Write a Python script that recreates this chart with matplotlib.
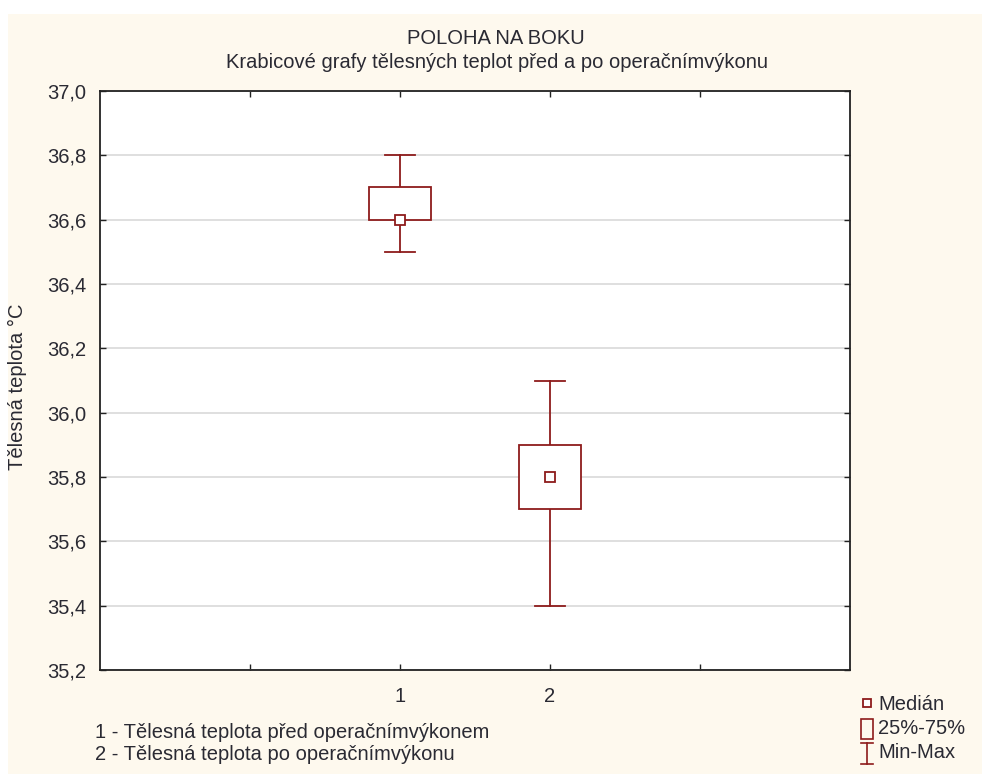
import matplotlib
matplotlib.use("Agg")
import matplotlib.pyplot as plt
from matplotlib.patches import Rectangle

# Data
positions = [1, 2]
whisker_min = [36.5, 35.4]
q25 = [36.6, 35.7]
median = [36.6, 35.8]
q75 = [36.7, 35.9]
whisker_max = [36.8, 36.1]
tick_labels = ["", "1", "2", ""]
notes = [
    "1 - Tělesná teplota před operačnímvýkonem",
    "2 - Tělesná teplota po operačnímvýkonu",
]
legend_labels = ["Medián", "25%-75%", "Min-Max"]

red = "#8e1b1b"
text_col = "#2a2a33"
fs = 14.5
plt.rcParams["font.family"] = ["Liberation Sans", "DejaVu Sans"]

fig = plt.figure(figsize=(9.82, 7.74), dpi=100)
fig.patch.set_facecolor("white")
# кремовая подложка как в Statistica
fig.patches.append(Rectangle((8 / 982, 0), 1, 1 - 14 / 774, transform=fig.transFigure,
                             facecolor="#fef9ee", edgecolor="none", zorder=-10))

ax = fig.add_axes([100 / 982, 1 - 670 / 774, 750 / 982, 579 / 774])
ax.set_facecolor("white")

box_w = 0.41
cap_w = 0.2
for x, lo, a, m, b, hi in zip(positions, whisker_min, q25, median, q75, whisker_max):
    ax.plot([x, x], [b, hi], color=red, lw=1.3, zorder=3)
    ax.plot([x, x], [lo, a], color=red, lw=1.3, zorder=3)
    ax.plot([x - cap_w / 2, x + cap_w / 2], [hi, hi], color=red, lw=1.3, zorder=3)
    ax.plot([x - cap_w / 2, x + cap_w / 2], [lo, lo], color=red, lw=1.3, zorder=3)
    ax.add_patch(Rectangle((x - box_w / 2, a), box_w, b - a, facecolor="white",
                           edgecolor=red, lw=1.3, zorder=3))
    ax.plot([x], [m], marker="s", ms=7, mfc="white", mec=red, mew=1.3, zorder=4)

ax.set_xlim(-1, 4)
ax.set_ylim(35.2, 37.0)
ax.set_xticks([0, 1, 2, 3])
ax.set_xticklabels(tick_labels)
yt = [35.2 + 0.2 * i for i in range(10)]
ax.set_yticks(yt)
ax.set_yticklabels([f"{v:.1f}".replace(".", ",") for v in yt])
ax.yaxis.grid(True, color="#dcdcdc", lw=1.3)
ax.set_axisbelow(True)
ax.tick_params(direction="in", length=4, width=1, top=True, right=True,
               labelsize=fs, colors="#222222", labelcolor=text_col)
ax.tick_params(axis="y", pad=10)
ax.tick_params(axis="x", pad=12)
for s in ax.spines.values():
    s.set_color("#222222")
    s.set_linewidth(1.3)

ax.set_ylabel("Tělesná teplota °C", fontsize=fs, color=text_col)
ax.yaxis.set_label_coords(-73 / 750, 0.49)

fig.text(496 / 982, 1 - 38 / 774, "POLOHA NA BOKU", ha="center", va="center",
         fontsize=fs, color=text_col)
fig.text(497 / 982, 1 - 62 / 774, "Krabicové grafy tělesných teplot před a po operačnímvýkonu",
         ha="center", va="center", fontsize=fs, color=text_col)

for i, t in enumerate(notes):
    fig.text(95 / 982, 1 - (733 + 22 * i) / 774, t, ha="left", va="center",
             fontsize=fs, color=text_col)

# легенда
fig.lines.append(plt.Line2D([867 / 982], [1 - 703 / 774], transform=fig.transFigure,
                            marker="s", ms=6, mfc="white", mec=red, mew=1.3, ls="none"))
fig.patches.append(Rectangle((861 / 982, 1 - 739 / 774), 12 / 982, 20 / 774,
                             transform=fig.transFigure, facecolor="none",
                             edgecolor=red, lw=1.2))
fig.lines.append(plt.Line2D([867 / 982, 867 / 982], [1 - 743 / 774, 1 - 764 / 774],
                            transform=fig.transFigure, color=red, lw=1.2))
fig.lines.append(plt.Line2D([861 / 982, 873 / 982], [1 - 743 / 774, 1 - 743 / 774],
                            transform=fig.transFigure, color=red, lw=1.2))
fig.lines.append(plt.Line2D([861 / 982, 873 / 982], [1 - 764 / 774, 1 - 764 / 774],
                            transform=fig.transFigure, color=red, lw=1.2))
for i, t in enumerate(legend_labels):
    fig.text(878 / 982, 1 - (704 + 24.5 * i) / 774, t, ha="left", va="center",
             fontsize=fs, color=text_col)

fig.savefig("out.png", dpi=100)
